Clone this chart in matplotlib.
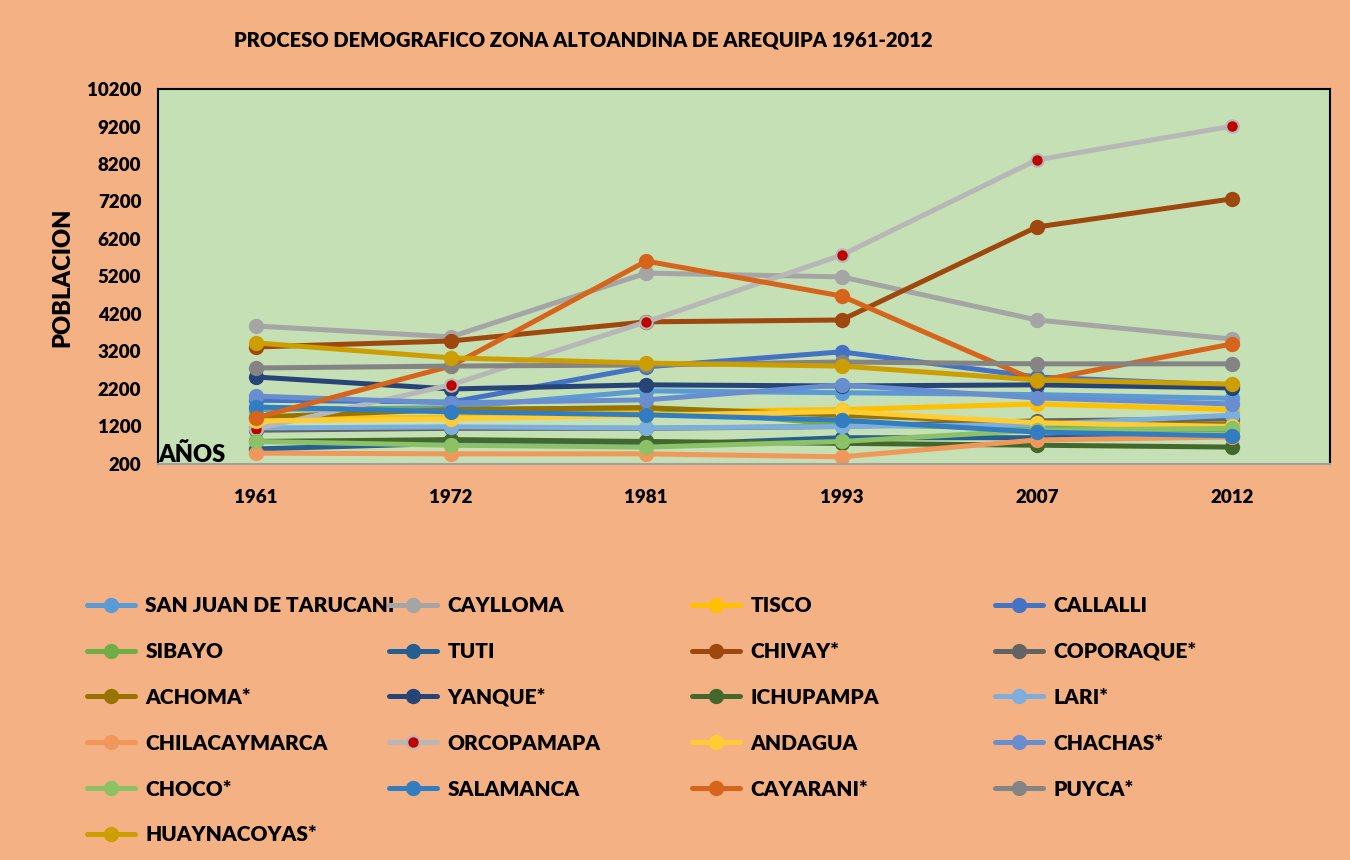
import matplotlib
matplotlib.use("Agg")
import matplotlib.pyplot as plt

years = ["1961", "1972", "1981", "1993", "2007", "2012"]
names = ["SAN JUAN DE TARUCANI", "CAYLLOMA", "TISCO", "CALLALLI",
         "SIBAYO", "TUTI", "CHIVAY*", "COPORAQUE*",
         "ACHOMA*", "YANQUE*", "ICHUPAMPA", "LARI*",
         "CHILACAYMARCA", "ORCOPAMAPA", "ANDAGUA", "CHACHAS*",
         "CHOCO*", "SALAMANCA", "CAYARANI*", "PUYCA*",
         "HUAYNACOYAS*"]

san_juan = [1650, 1700, 2150, 2100, 2050, 1950]
caylloma = [3880, 3590, 5290, 5190, 4040, 3530]
tisco = [1400, 1450, 1600, 1650, 1800, 1650]
callalli = [1900, 1850, 2790, 3190, 2520, 2300]
sibayo = [1700, 1650, 1700, 1250, 1150, 1100]
tuti = [600, 750, 700, 900, 900, 950]
chivay = [3320, 3480, 3990, 4040, 6520, 7270]
coporaque = [1100, 1150, 1150, 1200, 1350, 1400]
achoma = [1450, 1650, 1700, 1500, 1300, 1250]
yanque = [2520, 2200, 2310, 2280, 2310, 2230]
ichupampa = [800, 850, 800, 750, 700, 650]
lari = [1160, 1190, 1160, 1200, 1250, 1500]
chilacaymarca = [490, 470, 470, 390, 840, 920]
orcopamapa = [1130, 2310, 3990, 5770, 8310, 9210]
andagua = [1350, 1400, 1500, 1600, 1300, 1200]
chachas = [2010, 1830, 1910, 2310, 1960, 1800]
choco = [800, 700, 650, 800, 1100, 1150]
salamanca = [1720, 1590, 1510, 1370, 1050, 950]
cayarani = [1430, 2810, 5610, 4680, 2410, 3400]
puyca = [2760, 2810, 2840, 2920, 2870, 2870]
huaynacoyas = [3430, 3030, 2890, 2810, 2440, 2330]

series = [san_juan, caylloma, tisco, callalli, sibayo, tuti, chivay, coporaque,
          achoma, yanque, ichupampa, lari, chilacaymarca, orcopamapa, andagua,
          chachas, choco, salamanca, cayarani, puyca, huaynacoyas]

colors = ["#5B9BD5", "#A5A5A5", "#FFC000", "#4472C4", "#70AD47", "#255E91",
          "#9E480E", "#636363", "#997300", "#264478", "#43682B", "#7CAFDD",
          "#F1975A", "#B7B7B7", "#FFCD33", "#698ED0", "#8CC168", "#327DC2",
          "#D6641A", "#848484", "#CC9E00"]

ticks = list(range(200, 10201, 1000))

FONT = ["Lato", "DejaVu Sans"]
W = "heavy"
plt.rcParams["font.family"] = FONT
plt.rcParams["font.weight"] = W

fig = plt.figure(figsize=(13.5, 8.6), dpi=100, facecolor="#F4B183")
ax = fig.add_axes([0.117, 0.4605, 0.868, 0.436])
ax.set_facecolor("#C5E0B4")

x = list(range(len(years)))
handles = []
for name, vals, col in zip(names, series, colors):
    if name == "ORCOPAMAPA":
        ln, = ax.plot(x, vals, color=col, lw=3.6, marker="o", ms=9,
                      mfc="#C00000", mec=col, mew=1.5, label=name,
                      solid_capstyle="round")
    else:
        ln, = ax.plot(x, vals, color=col, lw=3.6, marker="o", ms=10,
                      mfc=col, mec=col, label=name, solid_capstyle="round")
    handles.append(ln)

ax.set_xlim(-0.5, 5.5)
ax.set_ylim(200, 10200)
ax.set_yticks(ticks)
ax.set_yticklabels([str(t) for t in ticks], fontsize=13.5, fontweight=W)
ax.set_xticks(x)
ax.set_xticklabels(years, fontsize=13.5, fontweight=W)
ax.tick_params(axis="y", length=0, pad=12)
ax.tick_params(axis="x", length=0, pad=18)
for s in ["left", "top", "right"]:
    ax.spines[s].set_color("black")
    ax.spines[s].set_linewidth(1.5)
ax.spines["bottom"].set_color("#A0A0A0")
ax.spines["bottom"].set_linewidth(1.5)

ax.text(0.0, -0.005, "AÑOS", transform=ax.transAxes, fontsize=17,
        fontweight=W, ha="left", va="bottom")

fig.text(0.432, 0.953, "PROCESO DEMOGRAFICO ZONA ALTOANDINA DE AREQUIPA 1961-2012",
         fontsize=14.5, fontweight=W, ha="center", va="center")
fig.text(0.046, 0.678, "POBLACION", rotation=90, fontsize=17, fontweight=W,
         ha="center", va="center")

col_x = [87, 389, 692, 995]
for c in range(4):
    idx = list(range(c, len(names), 4))
    fig.legend([handles[i] for i in idx], [names[i] for i in idx],
               loc="upper left", bbox_to_anchor=(col_x[c] / 1350, 1 - 596 / 860),
               frameon=False, borderpad=0, borderaxespad=0,
               handlelength=2.3, handletextpad=0.5, labelspacing=1.29,
               prop={"weight": W, "size": 15, "family": FONT})

fig.savefig("out.png", dpi=100, facecolor=fig.get_facecolor())
